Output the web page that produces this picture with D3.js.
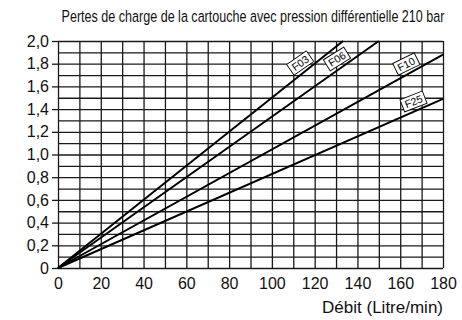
<!DOCTYPE html>
<html>
<head>
<meta charset="utf-8">
<script src="https://cdn.jsdelivr.net/npm/d3@7"></script>
<style>
  html, body { margin: 0; padding: 0; background: #fff; }
  svg { display: block; font-family: "Liberation Sans", Arial, sans-serif; }
  .grid line { stroke: #1a1a1a; stroke-width: 1.3; }
  .grid path { display: none; }
  .axis path { display: none; }
  .axis line { stroke: #1a1a1a; stroke-width: 1.3; }
  .axis text { font-size: 16px; fill: #111; }
  .curve { fill: none; stroke: #000; stroke-width: 2; }
  .tag rect { fill: #fff; stroke: #000; stroke-width: 0.9; }
  .tag text { font-size: 10.5px; fill: #000; }
</style>
</head>
<body>
<svg id="chart" width="462" height="320"></svg>
<script>
// series: straight lines from the origin, end point
const seriesNames = ["F03", "F06", "F10", "F25"];
const endFlow = [133.3, 150, 180, 180];
const endLoss = [2.0, 2.0, 1.88, 1.49];
const labelFlow = [116, 133, 165, 168];

const xTicks = [0, 20, 40, 60, 80, 100, 120, 140, 160, 180];
const yTicks = [0, 0.2, 0.4, 0.6, 0.8, 1.0, 1.2, 1.4, 1.6, 1.8, 2.0];
const xGrid = [0, 10, 20, 30, 40, 50, 60, 70, 80, 90, 100, 110, 120, 130, 140, 150, 160, 170, 180];
const yGrid = [0, 0.1, 0.2, 0.3, 0.4, 0.5, 0.6, 0.7, 0.8, 0.9, 1.0, 1.1, 1.2, 1.3, 1.4, 1.5, 1.6, 1.7, 1.8, 1.9, 2.0];

const titleText = "Pertes de charge de la cartouche avec pression différentielle 210 bar";
const xTitle = "Débit (Litre/min)";

const svg = d3.select("#chart");
const margin = { top: 41, right: 19, bottom: 52, left: 58 },
  width = 462 - margin.left - margin.right,
  height = 320 - margin.top - margin.bottom;

const x = d3.scaleLinear().domain([0, 180]).range([0, width]);
const y = d3.scaleLinear().domain([0, 2]).range([height, 0]);

const g = svg.append("g")
  .attr("transform", "translate(" + margin.left + "," + margin.top + ")");

// grid
g.append("g")
  .attr("class", "grid")
  .attr("transform", "translate(0," + height + ")")
  .call(d3.axisBottom(x).tickValues(xGrid).tickSize(-height).tickFormat(""));

g.append("g")
  .attr("class", "grid")
  .call(d3.axisLeft(y).tickValues(yGrid).tickSize(-width).tickFormat(""));

// axes
const fmt = (d) => (d === 0 ? "0" : d3.format(".1f")(d).replace(".", ","));

g.append("g")
  .attr("class", "axis")
  .call(d3.axisLeft(y).tickValues(yTicks).tickSize(6).tickPadding(3).tickFormat(fmt));

g.append("g")
  .attr("class", "axis")
  .attr("transform", "translate(0," + height + ")")
  .call(d3.axisBottom(x).tickValues(xTicks).tickSize(0).tickPadding(10).tickFormat(d3.format("d")));

// series lines
seriesNames.forEach((name, i) => {
  g.append("line")
    .attr("class", "curve")
    .attr("x1", x(0)).attr("y1", y(0))
    .attr("x2", x(endFlow[i])).attr("y2", y(endLoss[i]));
});

// labels in little boxes above each line
seriesNames.forEach((name, i) => {
  const slope = endLoss[i] / endFlow[i];
  const px = x(labelFlow[i]), py = y(labelFlow[i] * slope);
  const ang = Math.atan2(y(endLoss[i]) - y(0), x(endFlow[i]) - x(0));
  const off = 9.5;
  const cx = px + off * Math.sin(ang), cy = py - off * Math.cos(ang);
  const tag = g.append("g")
    .attr("class", "tag")
    .attr("transform", "translate(" + cx + "," + cy + ") rotate(" + (ang * 180 / Math.PI * 0.9) + ")");
  tag.append("rect").attr("x", -12).attr("y", -6.5).attr("width", 24).attr("height", 13);
  tag.append("text").attr("text-anchor", "middle").attr("dy", "0.36em").text(name);
});

// title: squeezed horizontally like a narrow font
const title = svg.append("text")
  .attr("text-anchor", "middle")
  .style("font-size", "16.5px")
  .style("fill", "#111")
  .text(titleText);
const tw = title.node().getComputedTextLength();
title.attr("transform", "translate(253,22) scale(" + (383 / tw) + ",1)");

// x axis title
svg.append("text")
  .attr("x", margin.left + width).attr("y", 313)
  .attr("text-anchor", "end")
  .style("font-size", "17px")
  .style("fill", "#111")
  .text(xTitle);
</script>
</body>
</html>
